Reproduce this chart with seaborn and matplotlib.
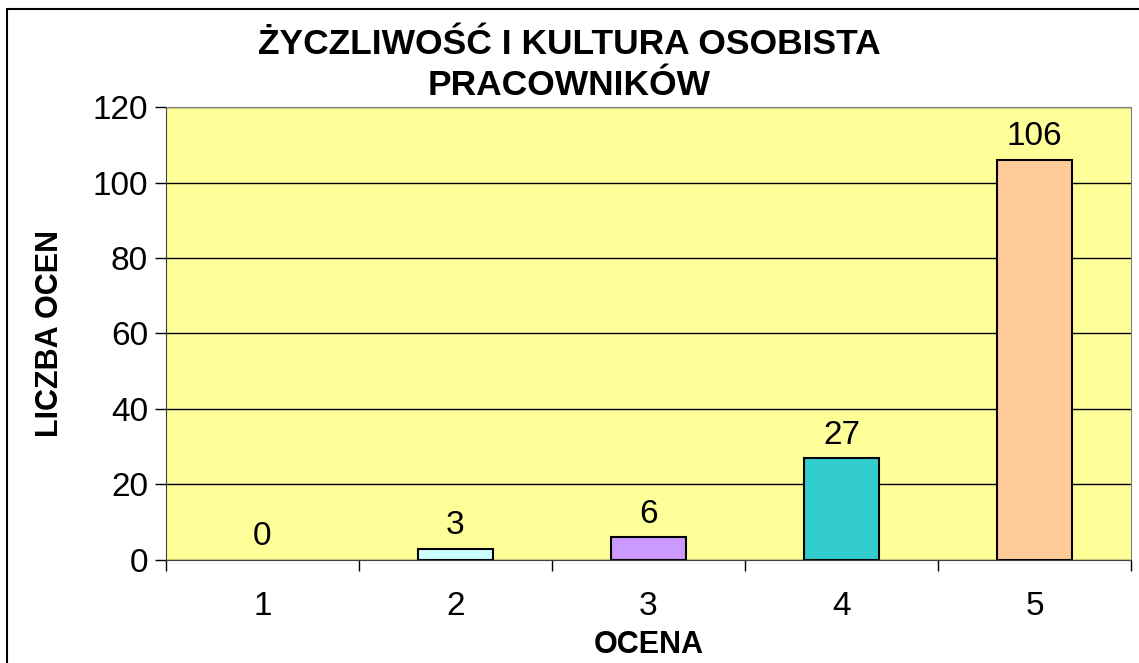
import pandas as pd
import matplotlib.pyplot as plt
import matplotlib.patches as mpatches
import seaborn as sns

ocena = ["1", "2", "3", "4", "5"]
liczba = [0, 3, 6, 27, 106]
kolory = ["#FFFFFF", "#CCFFFF", "#CC99FF", "#33CCCC", "#FFCC99"]
y_ticks = [0, 20, 40, 60, 80, 100, 120]

df = pd.DataFrame({"ocena": ocena, "liczba": liczba})

sns.set_style("white")
plt.rcParams["font.family"] = ["Liberation Sans", "DejaVu Sans"]
plt.rcParams["text.color"] = "black"
plt.rcParams["axes.labelcolor"] = "black"
plt.rcParams["xtick.color"] = "black"
plt.rcParams["ytick.color"] = "black"

fig = plt.figure(figsize=(11.39, 6.63), dpi=100)
ax = fig.add_axes([0.1457, 0.1554, 0.8473, 0.6832])

sns.barplot(data=df, x="ocena", y="liczba", hue="ocena", palette=kolory,
            legend=False, width=0.39, edgecolor="black", linewidth=1.5,
            saturation=1, ax=ax)

# zero-height bar draws nothing in the original
for p, v in zip(ax.patches, liczba):
    if v == 0:
        p.set_visible(False)

ax.set_facecolor("#FFFF99")
ax.set_ylim(0, 120)
ax.set_xlim(-0.5, 4.5)
ax.set_yticks(y_ticks)
ax.yaxis.grid(True, color="black", linewidth=1)
ax.set_axisbelow(True)
for s in ["top", "right"]:
    ax.spines[s].set_color("#808080")
for s in ["left", "bottom"]:
    ax.spines[s].set_color("#404040")

ax.tick_params(axis="y", labelsize=24, length=8, width=1, direction="out",
               left=True, pad=5)
ax.set_xticks([0, 1, 2, 3, 4])
ax.set_xticks([-0.5, 0.5, 1.5, 2.5, 3.5, 4.5], minor=True)
ax.tick_params(axis="x", which="major", length=0, labelsize=24, pad=22)
ax.tick_params(axis="x", which="minor", length=8, width=1, direction="out",
               bottom=True)

for i, v in enumerate(liczba):
    ax.text(i, v + 2, str(v), ha="center", va="bottom", fontsize=24)

ax.set_xlabel("OCENA", fontsize=22, fontweight="bold", labelpad=6)
ax.set_ylabel("LICZBA OCEN", fontsize=22, fontweight="bold", labelpad=20)

fig.text(0.5, 0.958, "ŻYCZLIWOŚĆ I KULTURA OSOBISTA\nPRACOWNIKÓW",
         ha="center", va="top", fontsize=25.5, fontweight="bold",
         linespacing=1.3)

fig.patches.append(mpatches.Rectangle((7 / 1139, -0.01), 1.0, 1 - 9 / 663 + 0.01,
                                      transform=fig.transFigure, fill=False,
                                      edgecolor="black", linewidth=1.5))

fig.savefig("out.png", dpi=100)
